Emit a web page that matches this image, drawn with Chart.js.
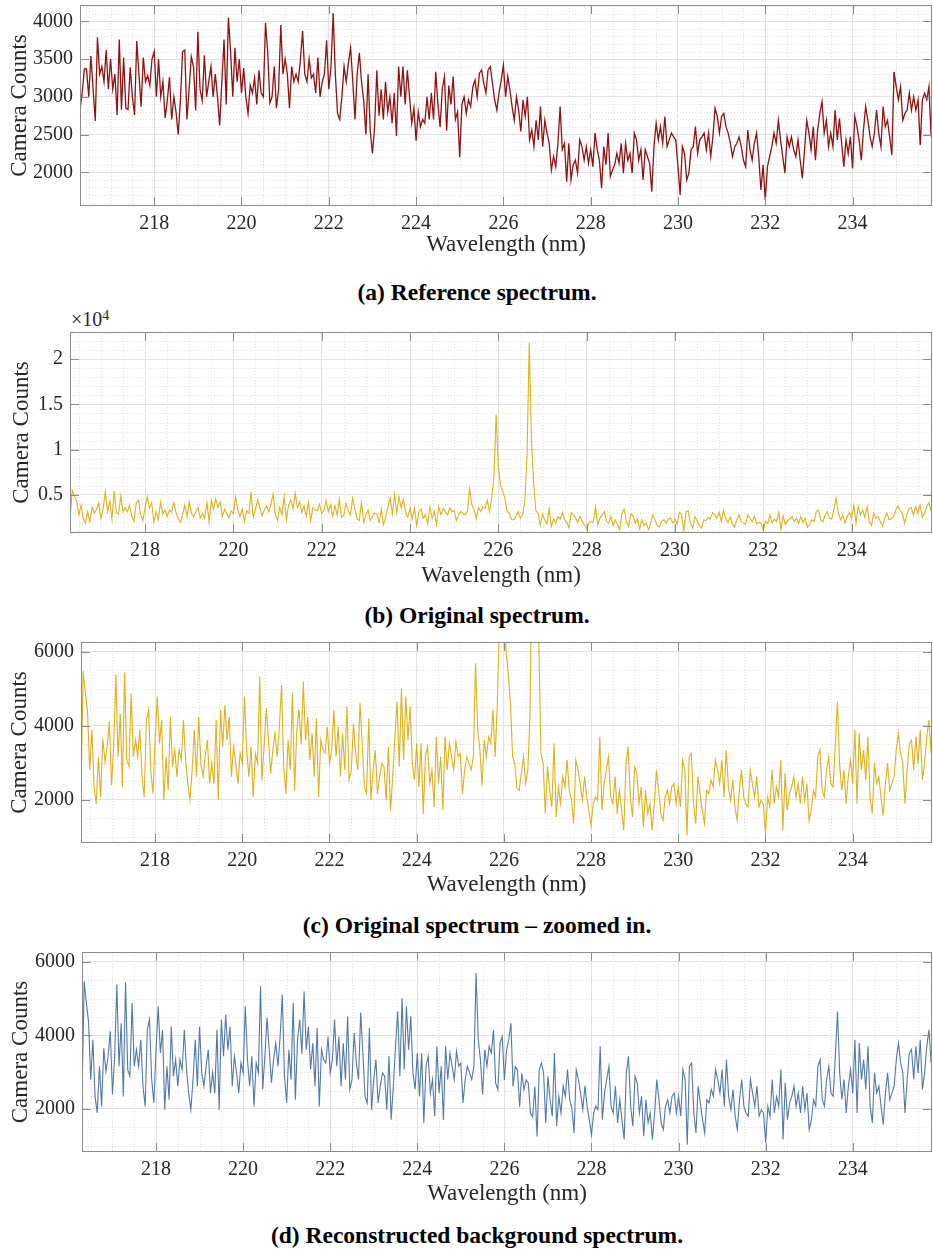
<!DOCTYPE html>
<html>
<head>
<meta charset="utf-8">
<script src="https://cdn.jsdelivr.net/npm/chart.js@4.4.1/dist/chart.umd.min.js"></script>
<style>
  html, body { margin: 0; padding: 0; background: #fff; }
  #page { position: relative; width: 933px; height: 1253px; overflow: hidden;
          font-family: "Liberation Serif", "Times New Roman", serif; color: #262626; }
  #page canvas { position: absolute; left: 0; }
  .cap { position: absolute; left: 20px; width: 914px; text-align: center;
         font-weight: bold; font-size: 23.5px; line-height: 24px; color: #000; white-space: nowrap; }
  .expo { position: absolute; left: 71px; top: 309px; font-size: 20px; line-height: 20px; color: #262626; }
  .expo sup { font-size: 14px; vertical-align: 6px; line-height: 0; }
</style>
</head>
<body>
<div id="page">
  <canvas id="chartA" width="933"></canvas>
  <div class="cap" style="top:280px">(a) Reference spectrum.</div>
  <div class="expo">&times;10<sup>4</sup></div>
  <canvas id="chartB" width="933"></canvas>
  <div class="cap" style="top:603px">(b) Original spectrum.</div>
  <canvas id="chartC" width="933"></canvas>
  <div class="cap" style="top:913px">(c) Original spectrum &ndash; zoomed in.</div>
  <canvas id="chartD" width="933"></canvas>
  <div class="cap" style="top:1223px">(d) Reconstructed background spectrum.</div>
</div>
<script>
// Wavelength sampling of the spectrometer (nm)
const WL_START = 216.3;
const WL_STEP = 0.05;
const X_MIN = 216.3;
const X_MAX = 235.82;

// Axis tick values
const xTicks = [218, 220, 222, 224, 226, 228, 230, 232, 234];
const refTicks = [2000, 2500, 3000, 3500, 4000];
const origTicks = [5000, 10000, 15000, 20000];
const zoomTicks = [2000, 4000, 6000];

// Reference spectrum (camera counts)
const referenceCounts = [
  2830,3050,3370,3370,3000,3540,3100,2680,3790,3300,3400,3200,3620,3100,3500,3100,3300,2760,3760,2830,
  3520,2850,2830,3390,3000,2760,3740,3300,2870,3520,3200,3280,3150,3500,3600,3000,3500,3000,3200,2720,
  2950,3260,2700,3000,2800,2500,2950,3600,3620,2700,3100,3530,3400,2820,3860,3100,2950,3550,3000,3200,
  3400,3000,3300,3000,2620,3200,3760,2900,4050,3600,3000,3650,3200,3500,3050,3380,3000,2780,3150,3050,
  3250,2900,3350,3050,3000,3980,3600,2920,3000,3400,2850,3100,3950,3300,3500,3300,2850,3400,3200,3300,
  3200,3500,3870,3300,3200,3500,3250,3300,3050,3520,3000,3200,3300,3750,3100,3400,4110,3300,2780,2700,
  3000,3400,3200,3450,3650,3200,2700,3300,3580,3200,2950,2500,3300,2550,2250,2600,3350,2750,3100,2700,
  3200,2800,3000,2650,3050,2480,3400,3000,3400,2900,3350,3000,2650,2850,2420,2800,2600,2700,2650,3000,
  2700,3050,2700,3330,2900,2600,3100,3270,2550,3150,2900,3270,2700,2800,2200,2900,3000,2780,2960,2870,
  3130,3220,3000,3310,3355,3180,3050,3355,3400,3180,2960,2825,3050,3220,3420,3000,3270,3090,2870,2690,
  3000,2825,2540,2960,2740,3000,2430,2560,2340,2690,2430,2870,2340,2690,2520,2385,2030,2210,2075,2385,
  2870,2300,2385,1875,2385,1900,2100,2160,1990,2430,2340,2160,2340,2120,2300,2075,2520,2300,2160,1790,
  2340,2100,2520,1945,2030,2100,2250,2120,2385,1990,2385,2160,2250,1990,2520,2430,2160,2300,1900,2300,
  2210,2120,1745,2340,2650,2430,2605,2385,2740,2340,2430,2520,2470,2430,2075,1700,2340,2250,1900,1990,
  2300,2340,2605,2250,2430,2470,2520,2300,2520,2210,2470,2850,2740,2520,2740,2780,2605,2520,2385,2210,
  2340,2385,2470,2340,2160,2075,2560,2300,2160,2385,2520,2210,1765,2100,1635,2075,2210,2340,2520,2385,
  2690,2430,2210,1990,2470,2340,2470,2300,2210,2430,2160,1920,2300,2690,2520,2300,2605,2160,2560,2780,
  2935,2520,2690,2340,2520,2340,2825,2430,2715,2385,2075,2430,2250,2470,2050,2740,2605,2430,2160,2560,
  2870,2690,2470,2340,2520,2825,2520,2340,2870,2605,2690,2470,2230,3330,3135,2960,3135,2690,2780,2825,
  3050,2825,3000,2825,2960,2360,2960,3050,2960,3135,2470
];

// Original measured spectrum (camera counts)
const originalCounts = [
  2250,5470,4880,4380,2800,3880,2340,1890,3160,2070,3650,3020,3430,4110,2390,3430,5380,3160,4330,2340,
  5440,3070,2890,4880,3160,3610,3160,3880,2620,2070,4150,4430,2800,2160,3610,4790,3520,4150,1980,3160,
  2250,4240,2890,3340,2620,3340,3070,4150,3070,2430,1980,2800,3880,2620,4240,2980,2620,3160,3610,2430,
  2980,2430,4150,1980,4430,3430,4560,3610,4240,2620,3430,2980,2430,3250,2980,4790,3340,2620,3430,2070,
  3250,2980,5330,2530,3430,4470,3610,2710,3340,3790,3160,3970,5100,2890,2160,3610,2800,4880,2250,3880,
  4430,3500,5190,3610,4240,3070,3790,2620,4200,2070,3610,3340,3250,3970,2980,3340,4430,3160,3970,2620,
  3790,2800,4520,2530,2800,4060,3250,2800,4620,3520,2340,2160,4200,1980,2800,3340,2160,2620,2980,2890,
  1980,3430,1710,2620,3700,4650,2890,5010,3070,4790,3610,4520,2980,2530,3520,2340,3520,1620,3160,3430,
  2430,2800,1800,3700,2430,3160,1710,3700,2800,3520,3160,2800,3570,3160,3250,2160,2800,3160,2980,2800,
  3160,5690,3880,3340,2390,3610,3160,3700,3520,4430,3160,4610,7000,13860,8200,6000,5420,4610,3160,2980,
  2300,2250,2710,3160,2430,2800,4330,9500,21830,11000,6300,3250,2980,1620,2890,2250,1800,3520,1530,2340,
  1890,2620,2340,3070,2250,2000,1350,3070,2800,2430,1980,2620,2070,1710,1300,1890,2070,1980,3700,1710,
  2430,2800,3160,2070,1890,2620,1620,2250,1710,1170,2980,3430,2070,1530,2890,2710,1890,2340,1260,2250,
  1620,1890,1170,1890,2800,2250,1620,1440,2070,2250,1890,2340,2430,1890,2340,1800,3070,2800,1030,3160,
  3250,1890,1350,2620,2160,1710,1350,2250,2160,2530,2340,3070,2800,2430,3070,2070,3340,2340,1980,2530,
  1800,1440,2250,2800,2070,1890,1800,2800,2430,2070,2620,1800,1980,1890,1080,2070,1800,2800,1890,2340,
  2070,3070,1170,2710,1710,2160,2340,2620,2070,2430,1890,2620,1980,2430,1440,1710,2250,2070,3160,3340,
  2250,2070,2800,3160,2430,2340,3430,4650,2980,2250,2800,1890,2620,3070,2430,3880,1890,3790,2800,3340,
  2530,3700,2070,1620,2980,2430,2620,2070,1570,2430,2980,2250,2430,2620,3340,3790,3250,2980,1890,2800,
  3520,3610,2800,3700,2980,3880,2530,2980,3700,4150,3250
];

// Reconstructed background spectrum (camera counts)
const backgroundCounts = [
  2250,5470,4880,4380,2800,3880,2340,1890,3160,2070,3650,3020,3430,4110,2390,3430,5380,3160,4330,2340,
  5440,3070,2890,4880,3160,3610,3160,3880,2620,2070,4150,4430,2800,2160,3610,4790,3520,4150,1980,3160,
  2250,4240,2890,3340,2620,3340,3070,4150,3070,2430,1980,2800,3880,2620,4240,2980,2620,3160,3610,2430,
  2980,2430,4150,1980,4430,3430,4560,3610,4240,2620,3430,2980,2430,3250,2980,4790,3340,2620,3430,2070,
  3250,2980,5330,2530,3430,4470,3610,2710,3340,3790,3160,3970,5100,2890,2160,3610,2800,4880,2250,3880,
  4430,3500,5190,3610,4240,3070,3790,2620,4200,2070,3610,3340,3250,3970,2980,3340,4430,3160,3970,2620,
  3790,2800,4520,2530,2800,4060,3250,2800,4620,3520,2340,2160,4200,1980,2800,3340,2160,2620,2980,2890,
  1980,3430,1710,2620,3700,4650,2890,5010,3070,4790,3610,4520,2980,2530,3520,2340,3520,1620,3160,3430,
  2430,2800,1800,3700,2430,3160,1710,3700,2800,3520,3160,2800,3570,3160,3250,2160,2800,3160,2980,2800,
  3160,5690,3880,3340,2390,3610,3160,3700,3520,4150,2700,2520,3790,3970,2790,3600,3880,4330,2610,3150,
  3060,2060,2970,2520,2790,2700,1880,1790,2610,1250,3060,3250,2980,1620,2890,2250,1800,3520,1530,2340,
  1890,2620,2340,3070,2250,2000,1350,3070,2800,2430,1980,2620,2070,1710,1300,1890,2070,1980,3700,1710,
  2430,2800,3160,2070,1890,2620,1620,2250,1710,1170,2980,3430,2070,1530,2890,2710,1890,2340,1260,2250,
  1620,1890,1170,1890,2800,2250,1620,1440,2070,2250,1890,2340,2430,1890,2340,1800,3070,2800,1030,3160,
  3250,1890,1350,2620,2160,1710,1350,2250,2160,2530,2340,3070,2800,2430,3070,2070,3340,2340,1980,2530,
  1800,1440,2250,2800,2070,1890,1800,2800,2430,2070,2620,1800,1980,1890,1080,2070,1800,2800,1890,2340,
  2070,3070,1170,2710,1710,2160,2340,2620,2070,2430,1890,2620,1980,2430,1440,1710,2250,2070,3160,3340,
  2250,2070,2800,3160,2430,2340,3430,4650,2980,2250,2800,1890,2620,3070,2430,3880,1890,3790,2800,3340,
  2530,3700,2070,1620,2980,2430,2620,2070,1570,2430,2980,2250,2430,2620,3340,3790,3250,2980,1890,2800,
  3520,3610,2800,3700,2980,3880,2530,2980,3700,4150,3250
];

const wavelength = referenceCounts.map((_, i) => Math.round((WL_START + i * WL_STEP) * 100) / 100);

const FONT = '"Liberation Serif", "Times New Roman", Times, serif';
const TEXT = '#262626';
const AXIS = '#8a8a8a';
const MAJOR_GRID = '#e1e1e1';
const MINOR_GRID = '#e3e3e3';
const TITLE_SIZE = 23;
const TICK_SIZE = 20;
const TICK_LEN = 9;

// Minor grid, box outline and inward tick marks
const framePlugin = {
  id: 'frame',
  beforeDatasetsDraw(chart, args, opts) {
    const { ctx, chartArea: a, scales: { x, y } } = chart;
    ctx.save();
    ctx.strokeStyle = MINOR_GRID;
    ctx.lineWidth = 1;
    ctx.setLineDash([1, 2]);
    ctx.beginPath();
    for (let v = Math.ceil(X_MIN / opts.xMinor) * opts.xMinor; v < X_MAX; v += opts.xMinor) {
      if (xTicks.some(t => Math.abs(t - v) < 1e-6)) continue;
      const px = Math.round(x.getPixelForValue(v)) + 0.5;
      ctx.moveTo(px, a.top); ctx.lineTo(px, a.bottom);
    }
    for (let v = Math.ceil(y.min / opts.yMinor) * opts.yMinor; v < y.max; v += opts.yMinor) {
      if (opts.yTicks.some(t => Math.abs(t - v) < 1e-6)) continue;
      const py = Math.round(y.getPixelForValue(v)) + 0.5;
      ctx.moveTo(a.left, py); ctx.lineTo(a.right, py);
    }
    ctx.stroke();
    ctx.restore();
  },
  afterDatasetsDraw(chart, args, opts) {
    const { ctx, chartArea: a, scales: { x, y } } = chart;
    ctx.save();
    ctx.strokeStyle = AXIS;
    ctx.lineWidth = 1;
    ctx.beginPath();
    for (const t of xTicks) {
      const px = Math.round(x.getPixelForValue(t)) + 0.5;
      ctx.moveTo(px, a.bottom); ctx.lineTo(px, a.bottom - TICK_LEN);
      ctx.moveTo(px, a.top); ctx.lineTo(px, a.top + TICK_LEN);
    }
    for (const t of opts.yTicks) {
      const py = Math.round(y.getPixelForValue(t)) + 0.5;
      ctx.moveTo(a.left, py); ctx.lineTo(a.left + TICK_LEN, py);
      ctx.moveTo(a.right, py); ctx.lineTo(a.right - TICK_LEN, py);
    }
    ctx.stroke();
    ctx.strokeRect(a.left + 0.5, a.top + 0.5, a.right - a.left - 1, a.bottom - a.top - 1);
    ctx.restore();
  }
};

function makePanel(id, g, counts, color, width, yMin, yMax, yTickVals, yMinor, fmt) {
  const canvas = document.getElementById(id);
  const H = Math.ceil(g.xTitleY - g.canvasTop + 18);
  canvas.height = H;
  canvas.style.top = g.canvasTop + 'px';
  const half = TITLE_SIZE * 1.2 / 2;
  const xTitlePad = H - (g.xTitleY - g.canvasTop) - half;

  return new Chart(canvas, {
    type: 'line',
    data: {
      datasets: [{
        data: wavelength.map((w, i) => ({ x: w, y: counts[i] })),
        borderColor: color,
        borderWidth: width,
        pointRadius: 0,
        tension: 0,
        fill: false
      }]
    },
    options: {
      responsive: false,
      animation: false,
      devicePixelRatio: 1,
      events: [],
      layout: { padding: { top: g.chartTop - g.canvasTop, right: 933 - 932, left: 0, bottom: 0 } },
      plugins: {
        legend: { display: false },
        tooltip: { enabled: false },
        frame: { xMinor: 0.5, yMinor: yMinor, yTicks: yTickVals }
      },
      scales: {
        x: {
          type: 'linear',
          min: X_MIN,
          max: X_MAX,
          afterBuildTicks: s => { s.ticks = xTicks.map(v => ({ value: v })); },
          afterFit: s => {
            s.height = H - (g.chartBottom - g.canvasTop);
            s.paddingLeft = 0; s.paddingRight = 0;
          },
          grid: { color: MAJOR_GRID, drawTicks: false },
          border: { display: false },
          ticks: {
            autoSkip: false, maxRotation: 0, padding: 6,
            color: TEXT, font: { family: FONT, size: TICK_SIZE },
            callback: v => String(v)
          },
          title: {
            display: true, text: 'Wavelength (nm)', color: TEXT,
            font: { family: FONT, size: TITLE_SIZE },
            padding: { top: 0, bottom: xTitlePad }
          }
        },
        y: {
          type: 'linear',
          min: yMin,
          max: yMax,
          afterBuildTicks: s => { s.ticks = yTickVals.map(v => ({ value: v })); },
          afterFit: s => {
            s.width = g.chartLeft;
            s.paddingTop = 0; s.paddingBottom = 0;
          },
          grid: { color: MAJOR_GRID, drawTicks: false },
          border: { display: false },
          ticks: {
            autoSkip: false, padding: 7,
            color: TEXT, font: { family: FONT, size: TICK_SIZE },
            callback: fmt
          },
          title: {
            display: true, text: 'Camera Counts', color: TEXT,
            font: { family: FONT, size: TITLE_SIZE },
            padding: { top: g.yTitleX - half, bottom: 0 }
          }
        }
      }
    },
    plugins: [framePlugin]
  });
}

const plain = v => String(v);
const scaled = v => String(v / 10000);

makePanel('chartA',
  { canvasTop: 0, chartTop: 5, chartBottom: 206, chartLeft: 80, xTitleY: 245, yTitleX: 20 },
  referenceCounts, '#8e1212', 1.3, 1554, 4216, refTicks, 100, plain);

makePanel('chartB',
  { canvasTop: 318, chartTop: 332, chartBottom: 533, chartLeft: 70, xTitleY: 576, yTitleX: 22 },
  originalCounts, '#dfb11b', 1.1, 800, 23000, origTicks, 1000, scaled);

makePanel('chartC',
  { canvasTop: 628, chartTop: 642, chartBottom: 843, chartLeft: 81, xTitleY: 885, yTitleX: 20 },
  originalCounts, '#dfb11b', 1.1, 825, 6263, zoomTicks, 500, plain);

makePanel('chartD',
  { canvasTop: 938, chartTop: 952, chartBottom: 1152, chartLeft: 82, xTitleY: 1194, yTitleX: 21 },
  backgroundCounts, '#5279a5', 1.1, 830, 6264, zoomTicks, 500, plain);
</script>
</body>
</html>
